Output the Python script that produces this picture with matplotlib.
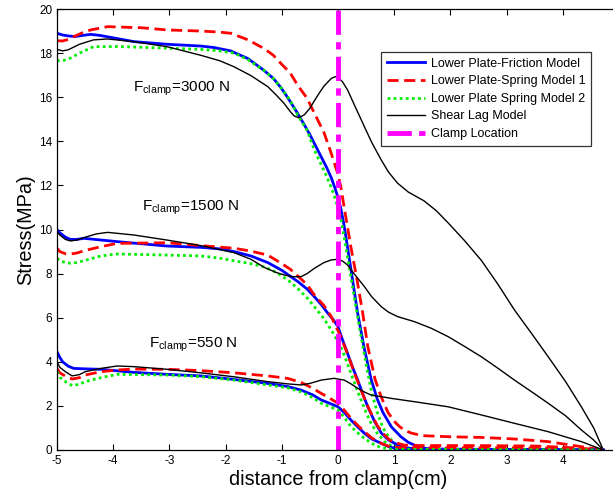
import matplotlib
matplotlib.use("Agg")
import matplotlib.pyplot as plt

plt.rcParams['font.family'] = ['Liberation Sans', 'DejaVu Sans']
plt.rcParams['mathtext.fontset'] = 'custom'
plt.rcParams['mathtext.rm'] = 'Liberation Sans'
plt.rcParams['mathtext.it'] = 'Liberation Sans'
plt.rcParams['axes.unicode_minus'] = False

# ---------------- data ----------------
# F = 3000 N
x3000_blue = [-5, -4.9, -4.8, -4.68, -4.55, -4.4, -4.23, -3.63, -3.04, -2.44, -2.2, -1.91, -1.6, -1.31, -1.15, -1.02, -0.9, -0.8, -0.72, -0.6, -0.5, -0.42, -0.3, -0.2, -0.12, -0.05, 0, 0.05, 0.1, 0.17, 0.26, 0.35, 0.46, 0.59, 0.7, 0.8, 0.95, 1.12, 1.25, 1.42, 1.6, 1.8, 4.72]
y3000_blue = [18.9, 18.82, 18.78, 18.75, 18.8, 18.85, 18.8, 18.52, 18.4, 18.32, 18.25, 18.1, 17.75, 17.2, 16.85, 16.45, 16.0, 15.6, 15.27, 14.75, 14.3, 13.9, 13.3, 12.8, 12.35, 11.85, 11.45, 10.95, 10.3, 9.2, 7.7, 6.2, 4.7, 3.2, 2.3, 1.7, 1.05, 0.6, 0.35, 0.15, 0.05, 0.02, 0]
x3000_red = [-5, -4.9, -4.8, -4.7, -4.55, -4.4, -4.1, -3.5, -3.04, -2.44, -2.1, -1.91, -1.6, -1.31, -1.15, -1.02, -0.85, -0.72, -0.55, -0.42, -0.25, -0.12, 0, 0.05, 0.11, 0.17, 0.23, 0.34, 0.44, 0.53, 0.66, 0.77, 0.89, 1.0, 1.1, 1.2, 1.3, 1.5, 2.0, 2.55, 3.14, 3.74, 4.33, 4.72]
y3000_red = [18.56, 18.55, 18.62, 18.75, 18.92, 19.05, 19.2, 19.15, 19.05, 19.0, 18.95, 18.9, 18.6, 18.2, 17.9, 17.54, 17.1, 16.55, 15.95, 15.27, 14.4, 13.45, 12.5, 11.94, 11.0, 10.1, 9.2, 7.7, 6.2, 4.7, 3.2, 2.4, 1.7, 1.3, 1.05, 0.88, 0.77, 0.65, 0.6, 0.57, 0.5, 0.38, 0.15, 0]
x3000_green = [-5, -4.9, -4.8, -4.6, -4.35, -3.93, -3.33, -2.44, -2.1, -1.85, -1.6, -1.31, -1.15, -1.02, -0.85, -0.72, -0.55, -0.42, -0.3, -0.2, -0.12, -0.05, 0, 0.05, 0.1, 0.2, 0.3, 0.4, 0.5, 0.6, 0.7, 0.8, 0.9, 1.0, 1.1, 1.2, 1.5, 4.72]
y3000_green = [17.65, 17.66, 17.72, 18.0, 18.29, 18.3, 18.25, 18.17, 18.1, 18.0, 17.7, 17.2, 16.85, 16.45, 15.85, 15.2, 14.5, 13.6, 12.95, 12.4, 11.9, 11.4, 11.0, 10.5, 9.8, 8.3, 6.8, 5.3, 3.9, 2.6, 1.7, 1.0, 0.6, 0.3, 0.15, 0.08, 0.02, 0]
x3000_black = [-5, -4.9, -4.8, -4.6, -4.35, -4.1, -3.64, -3.04, -2.44, -2.1, -1.85, -1.55, -1.25, -1.1, -0.96, -0.85, -0.78, -0.7, -0.6, -0.5, -0.43, -0.33, -0.25, -0.12, -0.05, 0, 0.08, 0.17, 0.3, 0.4, 0.47, 0.6, 0.77, 0.9, 1.06, 1.25, 1.53, 1.75, 1.96, 2.25, 2.55, 2.85, 3.14, 3.44, 3.74, 4.05, 4.33, 4.55, 4.72]
y3000_black = [18.17, 18.1, 18.15, 18.4, 18.6, 18.64, 18.52, 18.29, 17.9, 17.65, 17.38, 16.98, 16.48, 16.1, 15.72, 15.35, 15.15, 15.07, 15.2, 15.5, 15.8, 16.2, 16.5, 16.85, 16.93, 16.9, 16.7, 16.33, 15.6, 15.05, 14.66, 13.95, 13.15, 12.6, 12.1, 11.7, 11.3, 10.85, 10.3, 9.5, 8.6, 7.5, 6.35, 5.3, 4.23, 3.1, 1.96, 1.0, 0]

# F = 1500 N
x1500_blue = [-5, -4.95, -4.85, -4.76, -4.65, -4.52, -3.93, -3.04, -2.44, -2.1, -1.85, -1.55, -1.25, -1.0, -0.84, -0.72, -0.55, -0.42, -0.3, -0.18, -0.08, 0, 0.08, 0.17, 0.26, 0.35, 0.44, 0.53, 0.65, 0.77, 0.9, 1.06, 1.2, 1.4, 4.72]
y1500_blue = [10.0, 9.85, 9.65, 9.55, 9.55, 9.6, 9.45, 9.25, 9.19, 9.12, 9.0, 8.8, 8.5, 8.15, 7.86, 7.65, 7.3, 6.95, 6.6, 6.2, 5.9, 5.59, 5.0, 4.38, 3.75, 3.17, 2.55, 1.96, 1.3, 0.77, 0.45, 0.23, 0.1, 0.05, 0]
x1500_red = [-5, -4.95, -4.85, -4.76, -4.65, -4.5, -4.22, -3.93, -3.04, -2.44, -1.85, -1.55, -1.25, -1.0, -0.85, -0.72, -0.55, -0.42, -0.25, -0.12, 0.05, 0.14, 0.23, 0.32, 0.41, 0.5, 0.59, 0.7, 0.83, 0.92, 1.0, 1.18, 1.5, 2.5, 3.5, 4.2, 4.72]
y1500_red = [9.15, 9.0, 8.9, 8.89, 8.93, 9.05, 9.22, 9.37, 9.4, 9.27, 9.15, 9.02, 8.84, 8.45, 8.2, 7.9, 7.5, 7.03, 6.55, 6.05, 5.14, 4.55, 3.93, 3.3, 2.72, 2.15, 1.66, 1.1, 0.68, 0.45, 0.35, 0.22, 0.2, 0.2, 0.18, 0.1, 0]
x1500_green = [-5, -4.95, -4.85, -4.76, -4.65, -4.5, -4.22, -3.93, -3.04, -2.44, -2.1, -1.85, -1.55, -1.31, -1.15, -1.0, -0.85, -0.72, -0.55, -0.42, -0.25, -0.12, 0.05, 0.14, 0.23, 0.32, 0.41, 0.5, 0.59, 0.7, 0.83, 0.95, 1.06, 1.3, 4.72]
y1500_green = [8.69, 8.58, 8.5, 8.47, 8.5, 8.6, 8.8, 8.89, 8.84, 8.8, 8.7, 8.58, 8.45, 8.3, 8.12, 7.9, 7.62, 7.33, 6.9, 6.5, 5.95, 5.44, 4.69, 4.1, 3.48, 2.85, 2.27, 1.7, 1.21, 0.75, 0.38, 0.18, 0.08, 0.02, 0]
x1500_black = [-5, -4.95, -4.85, -4.76, -4.65, -4.5, -4.3, -4.1, -3.63, -3.04, -2.44, -1.85, -1.55, -1.31, -1.1, -0.96, -0.8, -0.66, -0.55, -0.42, -0.25, -0.12, 0, 0.08, 0.17, 0.3, 0.47, 0.6, 0.77, 0.9, 1.06, 1.36, 1.66, 1.96, 2.25, 2.55, 2.85, 3.14, 3.44, 3.74, 4.05, 4.33, 4.55, 4.72]
y1500_black = [9.9, 9.75, 9.55, 9.48, 9.52, 9.65, 9.8, 9.87, 9.75, 9.52, 9.27, 8.95, 8.65, 8.28, 8.05, 7.94, 7.86, 7.86, 8.0, 8.24, 8.5, 8.62, 8.65, 8.57, 8.39, 7.95, 7.41, 6.95, 6.5, 6.25, 6.05, 5.82, 5.52, 5.14, 4.7, 4.23, 3.7, 3.17, 2.65, 2.12, 1.55, 0.91, 0.45, 0]

# F = 550 N
x550_blue = [-5, -4.95, -4.9, -4.8, -4.7, -4.5, -4.22, -3.63, -3.04, -2.44, -1.85, -1.25, -0.9, -0.66, -0.45, -0.3, -0.15, 0, 0.12, 0.23, 0.35, 0.47, 0.6, 0.77, 0.9, 1.06, 1.3, 4.72]
y550_blue = [4.46, 4.2, 4.0, 3.8, 3.7, 3.68, 3.66, 3.52, 3.43, 3.36, 3.2, 3.02, 2.88, 2.72, 2.5, 2.27, 2.12, 1.96, 1.68, 1.36, 1.05, 0.76, 0.5, 0.3, 0.15, 0.05, 0.01, 0]
x550_red = [-5, -4.95, -4.85, -4.73, -4.6, -4.5, -4.22, -3.93, -3.63, -3.04, -2.44, -1.85, -1.25, -0.9, -0.66, -0.45, -0.3, -0.15, 0, 0.12, 0.23, 0.35, 0.47, 0.6, 0.77, 0.9, 1.0, 1.3, 3.0, 4.0, 4.72]
y550_red = [3.7, 3.5, 3.35, 3.22, 3.28, 3.4, 3.55, 3.63, 3.67, 3.66, 3.6, 3.5, 3.36, 3.25, 3.07, 2.8, 2.57, 2.35, 2.12, 1.78, 1.44, 1.12, 0.83, 0.55, 0.3, 0.17, 0.12, 0.1, 0.1, 0.08, 0]
x550_green = [-5, -4.95, -4.85, -4.73, -4.6, -4.5, -4.22, -3.93, -3.04, -2.44, -1.85, -1.25, -0.9, -0.66, -0.45, -0.3, -0.15, 0, 0.12, 0.23, 0.35, 0.47, 0.6, 0.77, 1.0, 4.72]
y550_green = [3.55, 3.3, 3.1, 2.92, 2.98, 3.1, 3.28, 3.43, 3.4, 3.33, 3.17, 2.95, 2.82, 2.64, 2.38, 2.12, 1.97, 1.81, 1.45, 1.06, 0.78, 0.53, 0.3, 0.1, 0.03, 0]
x550_black = [-5, -4.95, -4.85, -4.73, -4.6, -4.5, -4.22, -3.93, -3.63, -3.04, -2.44, -1.85, -1.25, -0.9, -0.66, -0.5, -0.3, -0.07, 0.11, 0.23, 0.35, 0.47, 0.59, 0.77, 0.95, 1.36, 1.96, 2.55, 3.14, 3.74, 4.33, 4.72]
y550_black = [4.0, 3.75, 3.55, 3.36, 3.42, 3.55, 3.7, 3.81, 3.78, 3.66, 3.5, 3.32, 3.1, 3.0, 2.95, 3.02, 3.17, 3.25, 3.17, 3.0, 2.8, 2.63, 2.49, 2.42, 2.34, 2.19, 1.96, 1.59, 1.21, 0.83, 0.38, 0]

clamp_x = [0, 0]
clamp_y = [0, 20]

labels = ['Lower Plate-Friction Model', 'Lower Plate-Spring Model 1',
          'Lower Plate Spring Model 2', 'Shear Lag Model', 'Clamp Location']
annotations = [r'F$_{\mathrm{clamp}}$=3000 N', r'F$_{\mathrm{clamp}}$=1500 N', r'F$_{\mathrm{clamp}}$=550 N']
annot_x = [-3.64, -3.48, -3.37]
annot_y = [16.4, 10.97, 4.76]

xticks = [-5, -4, -3, -2, -1, 0, 1, 2, 3, 4]
yticks = [0, 2, 4, 6, 8, 10, 12, 14, 16, 18, 20]

# ---------------- plot ----------------
fig = plt.figure(figsize=(6.13, 4.97), dpi=100)
ax = fig.add_axes([57/613, 47/497, 562/613, 441/497])

sets = [
    (x3000_blue, y3000_blue, x3000_red, y3000_red, x3000_green, y3000_green, x3000_black, y3000_black),
    (x1500_blue, y1500_blue, x1500_red, y1500_red, x1500_green, y1500_green, x1500_black, y1500_black),
    (x550_blue, y550_blue, x550_red, y550_red, x550_green, y550_green, x550_black, y550_black),
]
handles = []
for i, (xb, yb, xr, yr, xg, yg, xk, yk) in enumerate(sets):
    hb, = ax.plot(xb, yb, color='#0000ff', lw=2.0, solid_joinstyle='round')
    hr, = ax.plot(xr, yr, color='#ff0000', lw=2.0, ls=(0, (4, 2)))
    hg, = ax.plot(xg, yg, color='#00ee00', lw=2.0, ls=(0, (1, 1.2)))
    hk, = ax.plot(xk, yk, color='black', lw=1.0, solid_joinstyle='round')
    if i == 0:
        handles = [hb, hr, hg, hk]

hm, = ax.plot(clamp_x, clamp_y, color='#ff00ff', lw=3.5, ls=(0, (5, 1.5, 1.5, 1.5)))
handles.append(hm)

for t, xa, ya in zip(annotations, annot_x, annot_y):
    ax.text(xa, ya, t, fontsize=11, va='center', ha='left')

ax.set_xlim(-5, 5)
ax.set_ylim(0, 20)
ax.set_xticks(xticks)
ax.set_yticks(yticks)
ax.tick_params(direction='in', top=True, right=True, length=4, labelsize=8.5, width=0.8)
for s in ax.spines.values():
    s.set_linewidth(0.9)

ax.set_xlabel('distance from clamp(cm)', fontsize=14.3, labelpad=2)
ax.set_ylabel('Stress(MPa)', fontsize=14.3, labelpad=3)

leg = fig.legend(handles, labels, loc='upper right', bbox_to_anchor=(591/613, 1 - 52/497),
                 fontsize=9, frameon=True, fancybox=False, handlelength=3.0,
                 labelspacing=0.45, borderpad=0.45, handletextpad=0.5, borderaxespad=0)
leg.get_frame().set_edgecolor('black')
leg.get_frame().set_linewidth(0.9)

fig.savefig('out.png', dpi=100)
